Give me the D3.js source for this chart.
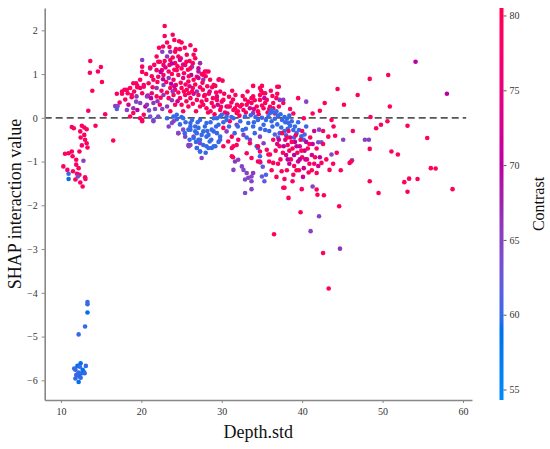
<!DOCTYPE html>
<html>
<head>
<meta charset="utf-8">
<script src="https://cdn.jsdelivr.net/npm/d3@7"></script>
<style>
  body { margin: 0; background: #fff; }
  svg text { font-family: "Liberation Serif", "DejaVu Serif", serif; }
</style>
</head>
<body>
<div id="container"></div>
<script>
// [depth.std, shap interaction value, contrast]
var leftCluster = [
  [13.65,1.30,79],[13.6,1.03,78],[14.97,1.16,79],[14.6,1.06,78],[15.1,0.82,79],[13.9,0.62,79],[13.4,0.16,78],[14.3,-0.18,79],[15.5,0.08,78],[16.5,-0.52,79],
  [11.35,-0.21,78],[11.6,-0.24,79],[12.6,-0.18,79],[12.9,-0.22,78],[12.4,-0.31,79],[13.2,-0.26,79],[12.9,-0.39,78],[12.45,-0.45,79],[13.0,-0.50,79],[12.6,-0.63,78],
  [13.2,-0.58,79],[13.3,-0.68,79],[12.3,-0.77,78],[10.5,-0.82,79],[10.95,-0.81,78],[11.35,-0.77,79],[11.45,-0.88,79],[10.3,-1.11,79],[10.8,-1.19,78],[11.9,-0.96,79],
  [11.9,-1.07,78],[12.2,-1.15,79],[11.5,-1.22,79],[12.0,-1.28,78],[12.3,-1.30,79],[11.8,-1.41,79],[12.4,-1.48,78],[12.7,-1.57,79],[13.0,-1.36,79],[13.05,-1.40,78],
  [10.95,-1.28,60],[10.95,-1.40,59],[12.1,-1.34,64],[12.8,-0.98,65]
];

var lowCluster = [
  [13.3,-4.21,60],[13.3,-4.26,60],[13.3,-4.45,59],[13.0,-4.77,60],[12.2,-4.95,60],[12.45,-5.61,59],[11.65,-5.73,60],[11.8,-5.76,60],[12.05,-5.67,59],[12.35,-5.69,60],
  [13.1,-5.67,60],[12.7,-5.76,59],[12.2,-5.82,60],[12.6,-5.84,60],[12.85,-5.81,59],[11.9,-5.88,60],[12.3,-5.91,59],[12.05,-5.86,60],[11.8,-5.96,60],[12.2,-6.04,59],
  [12.95,-5.84,60],[12.45,-5.94,60]
];

var riseCluster = [
  [16.75,0.27,66],[16.95,0.2,61],[17.05,0.27,64],[17.6,0.55,79],[17.9,0.64,78],[18.3,0.56,79],[18.6,0.68,79],[18.8,0.47,78],[19.1,0.60,79],[19.35,0.79,78],
  [19.5,0.73,79],[19.85,0.68,76],[20.1,1.32,65],[20.1,1.17,79],[20.1,1.05,78],[20.3,0.71,79],[19.35,0.37,65],[19.0,0.22,66],[19.5,0.18,70],[18.6,0.03,79],
  [19.85,-0.01,79],[20.1,-0.05,79],[21.1,1.13,65],[20.8,0.51,72],[20.5,0.26,70],[20.95,0.17,64],[21.1,0.03,63],[21.5,-0.05,61],[22.1,0.03,64],
  [18.2,0.64,79],[17.6,0.60,79],[16.95,0.55,78],[18.8,0.52,79],[19.4,0.49,66],[20.1,0.56,79],[20.7,0.49,66],[21.3,0.56,76],[21.9,0.49,79],[19.85,0.34,65],
  [20.7,0.30,66],[21.5,0.34,66],[18.2,0.18,65],[19.0,0.11,79],[20.3,0.07,79],[19.85,0.87,79],[19.0,0.79,79],[19.5,0.70,79],[20.3,0.75,78],[20.9,0.79,79],
  [21.5,0.87,78],[20.1,-0.08,78],[21.5,-0.08,65],[18.0,0.42,79],[17.3,0.35,78],[18.4,0.3,72]
];

var peakCluster = [
  [22.9,2.1,79],[22.9,1.87,79],[24.1,1.78,79],[23.2,1.72,79],[26.1,1.66,79],[22.7,1.63,79],[22.6,1.51,65],[23.6,1.51,66],[24.3,1.57,78],[24.8,1.57,79],
  [26.7,1.55,79],[26.5,1.44,79],[25.65,1.44,78],[24.2,1.51,79],[21.9,1.40,79],[23.2,1.40,66],[23.9,1.38,79],[24.9,1.36,78],[26.7,1.36,79],[22.1,1.28,79],
  [21.6,1.21,79],[22.75,1.21,78],[23.6,1.32,79],[24.2,1.25,79],[24.8,1.32,72],[25.45,1.21,79],[26.3,1.17,66],[27.3,1.25,67],[27.9,1.06,79],[28.35,1.06,78],
  [27.1,1.06,68],[25.0,1.13,79],[24.4,1.09,79],[22.55,1.09,79],[23.4,1.06,79],[21.9,1.09,78],[21.1,1.15,79],[22.3,1.28,79],[23.5,1.21,79],[25.2,1.22,74],
  [26.1,1.13,79],[27.1,1.13,72],[27.5,1.0,79],[26.9,0.94,78],[22.1,0.94,79],[22.75,0.98,79],[23.4,0.91,66],[24.0,0.87,79],[24.6,0.98,79],[25.2,0.91,74],
  [25.85,0.83,79],[26.5,0.87,79],[27.1,0.91,72],[27.7,0.87,66],[28.55,0.87,79],[29.6,0.87,72],[29.0,0.75,79],[21.9,0.68,66],[22.75,0.75,65],[23.6,0.68,79],
  [24.2,0.64,79],[25.0,0.68,79],[25.65,0.64,78],[26.4,0.68,79],[26.9,0.60,66],[27.65,0.64,79],[22.75,0.52,66],[23.4,0.45,79],[24.0,0.52,79],[24.8,0.45,78],
  [25.45,0.52,79],[26.1,0.45,79],[26.9,0.41,79],[27.5,0.37,78],[28.1,0.41,79],[28.75,0.34,79],[29.4,0.41,79],[30.0,0.37,78],[30.6,0.26,72],[22.3,0.30,79],
  [23.2,0.26,66],[24.2,0.30,79],[25.0,0.30,79],[25.85,0.26,79],[27.3,0.26,79],[28.1,0.22,79],[29.0,0.26,78],
  [22.4,1.05,70],[23.0,1.15,73],[23.8,1.0,79],[24.5,1.18,79],[25.3,1.02,79],[25.8,1.1,79],[26.2,0.98,70],[23.1,0.82,79],[23.7,0.78,70],[24.3,0.75,79],
  [24.9,0.8,79],[25.5,0.76,79],[26.0,0.72,74],[26.7,0.76,79],[27.3,0.7,79],[22.5,0.62,79],[23.2,0.58,79],[23.9,0.6,66],[24.6,0.58,79],[25.3,0.6,79],
  [25.9,0.56,79],[26.5,0.55,72],[27.1,0.52,79],[27.8,0.5,79],[28.4,0.55,79],[22.0,0.82,79],[21.4,0.7,79],[21.2,0.45,70],[22.0,0.38,66],[22.6,0.2,65],
  [23.8,0.4,66],[24.5,0.38,72],[25.6,0.38,79],[26.4,0.32,79],[21.7,0.2,64],[23.5,1.62,79],[25.0,1.72,79],[24.6,1.4,79],[25.6,1.28,79],[22.9,1.3,79],
  [23.8,1.24,70],[26.0,1.3,79],[28.0,0.95,79],[28.8,0.7,79],[28.5,0.6,74],[29.3,0.58,79],[29.8,0.6,79],[29.2,0.73,79],[28.1,1.06,79],[27.7,0.98,79],
  [29.7,0.88,79],[27.9,0.52,79],[29.4,0.49,74],[30.2,0.41,79],[30.8,0.26,79],[31.65,0.22,79],[32.5,0.30,79],[33.3,0.37,78],[33.7,0.45,79],[35.0,0.73,79],
  [35.2,0.56,79],[35.6,0.41,79],[36.9,0.71,79],
  [22.2,1.6,79],[23.9,1.9,79],[24.7,1.75,79],[25.4,1.6,79],[26.4,1.25,79],[21.3,0.95,79],[20.6,1.0,79],[22.7,0.88,70],[24.1,1.1,79],[25.9,0.95,79],
  [27.6,0.8,79],[28.2,0.72,79],[26.3,0.6,79],[24.1,0.72,72],[22.4,0.46,79],[23.6,0.15,79],[25.2,0.15,79],[26.8,0.15,79],[28.6,0.15,79],[27.7,0.3,79]
];

var bandCluster = [
  [29.8,0.18,79],[31.0,0.26,79],[31.45,0.18,79],[32.3,0.26,79],[32.7,0.18,78],[33.1,0.30,79],[33.7,0.34,79],[34.35,0.26,79],[34.75,0.41,79],[35.4,0.34,79],
  [33.9,0.49,79],[34.75,0.52,79],[35.4,0.56,79],[36.4,0.34,79],[31.85,0.11,79],[33.9,0.11,66],[35.2,0.22,79],[30.4,0.12,79],[31.2,0.35,78],[32.0,0.15,79],
  [32.9,0.42,79],[34.0,0.2,74],[34.6,0.08,79],[35.7,0.12,79],[36.0,0.25,79],[36.8,0.45,79],[30.9,0.48,79],[34.75,0.68,79],[36.4,0.22,79],[37.1,0.26,79],
  [37.65,0.34,79],[37.1,0.71,79],[37.2,0.41,66],[37.65,0.41,66],[38.5,0.2,79],[38.9,0.1,79],[36.9,0.55,79],[33.9,0.73,79],
  [28.3,0.12,79],[29.1,0.08,79],[29.5,0.3,72],[30.3,0.55,79],[30.7,0.1,74],[31.4,0.42,79],[31.9,0.3,79],[32.2,0.05,79],[32.6,0.5,79],[33.0,0.12,79],
  [33.5,0.22,72],[34.1,0.4,79],[34.5,0.15,79],[35.0,0.28,79],[35.3,0.45,72],[35.9,0.2,79],[36.3,0.5,79],[36.6,0.1,79],[29.9,0.25,79],[31.7,0.52,79],
  [33.2,0.6,79],[34.9,0.62,79],[36.1,0.62,79],[30.1,0.85,79],[31.3,0.62,79],[28.9,0.45,79]
];

var blueBand = [
  [23.2,-0.01,60],[24.0,0.03,60],[24.4,0.07,60],[25.0,0.02,60],[23.8,-0.12,64],[23.4,-0.2,65],[24.6,-0.35,79],[25.85,-0.27,60],[26.1,-0.2,60],[26.7,-0.31,60],
  [27.1,-0.23,60],[27.7,-0.31,60],[28.35,-0.39,60],[29.0,-0.31,60],[26.5,-0.43,64],[27.1,-0.50,60],[27.3,-0.58,65],[28.1,-0.65,60],[28.75,-0.69,60],[29.2,-0.65,60],
  [27.5,-0.92,65],[27.3,-0.77,60],[26.9,-0.69,60],[25.85,-0.62,65],[29.8,-0.43,60],[29.6,-0.16,60],[30.2,-0.23,79],[29.4,-0.01,60],[30.0,0.07,60],[30.6,0.03,60],
  [31.0,-0.08,79],[31.45,-0.01,60],[31.85,-0.16,65],[32.3,-0.08,60],[32.9,0.03,60],[33.3,-0.12,60],[33.9,-0.2,60],[34.5,-0.05,60],[35.2,-0.16,60],[35.8,0.03,60],
  [36.2,-0.08,60],[36.0,0.11,60],[36.2,0.18,60],[24.4,-0.03,60],[25.2,-0.01,60],[26.1,-0.12,60],[26.7,-0.2,60],[27.3,-0.05,60],[28.1,-0.12,60],[29.0,-0.01,60],
  [29.8,0.03,60],[30.6,-0.05,60],[26.1,-0.27,60],[26.9,-0.35,60],[27.5,-0.39,60],[26.5,-0.46,60],[27.3,-0.50,60],[28.1,-0.43,60],[28.5,-0.54,60],[27.7,-0.62,60],
  [26.9,-0.69,60],[28.35,-0.69,60],[29.0,-0.65,60],[27.3,-0.77,60],[28.75,-0.27,60],[29.4,-0.35,60],[29.8,-0.50,61],[25.2,-0.27,64],[25.45,-0.43,65],[26.1,-0.62,64],
  [25.9,-0.65,65],[24.6,-0.35,64],[24.0,-0.08,65],
  [37.0,0.05,60],[36.6,-0.02,60],[37.3,0.08,60],[37.5,-0.05,60],[37.8,0.02,60],[37.9,-0.1,60],[38.1,-0.02,60],[38.3,-0.12,60],[38.5,-0.18,60],[38.2,-0.25,60],
  [38.7,-0.08,60],[38.9,-0.28,60],[39.1,-0.2,60],[39.3,-0.35,60],[39.6,-0.28,60],[39.9,-0.42,60],[40.3,-0.38,61],[36.9,-0.15,60],[37.4,-0.22,60],[37.8,-0.3,60],
  [36.5,0.12,60],[35.5,-0.05,60],[35.0,0.0,60],[34.2,0.02,60],[33.6,0.06,60],[34.8,-0.25,60],[35.9,-0.3,60],[36.6,-0.38,61],[37.0,-0.45,62],[42.0,-0.56,64],
  [42.4,-0.56,63],[40.5,-0.2,60],[40.2,-0.5,60],[32.6,-0.28,60],[31.6,-0.35,60],[33.1,-0.45,60],[34.1,-0.35,60],[34.35,-0.65,60],[34.5,-0.69,60],[34.75,-0.88,60],
  [30.6,-0.31,65],[32.7,-0.39,65],[33.5,-0.50,65],[34.75,-0.43,65],[35.2,-0.58,65],
  [24.8,-0.15,60],[25.5,-0.1,60],[25.4,-0.35,60],[26.3,-0.05,60],[26.8,-0.55,60],[27.9,-0.2,60],[28.2,-0.3,60],[28.7,-0.5,60],[29.3,-0.2,60],[28.0,-0.8,60],
  [28.6,-0.1,60],[30.2,-0.1,60],[27.0,-0.1,60],[26.0,-0.5,60],[29.6,-0.55,60],[30.9,-0.2,60],[31.2,0.02,60],[32.0,-0.2,60],[33.0,-0.25,60],[34.0,-0.1,60],
  [35.4,-0.28,60],[36.3,-0.2,60],[37.2,-0.35,60],[38.0,-0.4,60],[39.0,-0.45,60],[36.8,0.15,60],[38.4,0.05,60],[39.5,-0.1,60]
];

var dipCluster = [
  [32.5,-1.11,65],[32.7,-1.19,64],[33.1,-1.26,65],[33.7,-1.34,64],[33.3,-1.37,65],[32.9,-1.41,64],[33.7,-1.45,65],[32.9,-1.72,64],[33.7,-1.63,65],[35.0,-1.34,62],
  [35.3,-1.45,62],[35.5,-1.30,61],[32.05,-0.96,65],[31.65,-1.0,66],[31.45,-1.19,65],[33.9,-1.26,66],[34.8,-1.02,63],[35.1,-1.12,62]
];

var redCloud = [
  [30.2,-0.65,79],[31.25,-0.69,79],[30.8,-0.54,79],[31.85,-0.62,79],[31.25,-0.88,79],[31.4,-0.90,79],[33.1,-0.81,79],[33.5,-0.58,79],[34.5,-0.65,79],[34.75,-0.77,79],
  [34.75,-1.0,79],[36.0,-0.84,79],[36.4,-1.03,79],[37.45,-1.22,79],[37.2,-0.65,79],[31.25,-0.43,79],[31.45,-0.65,79],[32.05,-0.50,79],[33.7,-0.92,79],[34.5,-1.0,79],
  [35.6,-0.73,79],[35.8,-0.84,79],[37.65,-1.6,79],[37.8,-1.4,79],
  [37.5,-0.35,79],[37.9,-0.5,74],[38.2,-0.62,79],[38.5,-0.45,72],[38.8,-0.7,79],[39.1,-0.55,71],[39.4,-0.8,79],[39.7,-0.65,72],[40.0,-0.9,79],[40.3,-0.75,71],
  [40.6,-0.95,79],[40.9,-0.6,79],[41.2,-0.85,72],[41.5,-1.05,79],[38.0,-0.85,72],[38.6,-0.95,79],[39.0,-1.1,79],[39.5,-1.0,72],[40.2,-1.15,71],[40.8,-1.25,79],
  [37.6,-0.8,79],[38.3,-0.3,79],[39.2,-0.4,79],[40.0,-0.3,79],[36.9,-0.6,74],[37.3,-0.95,79],[38.9,-1.3,79],[39.6,-1.2,79],[41.0,-0.45,79],[41.8,-0.7,79],
  [42.2,-0.9,71],[42.6,-0.3,79],[41.5,-0.3,72],[40.5,-0.55,71],[39.8,-0.5,79],[39.0,-0.85,70],[38.4,-1.05,71],[36.2,-1.2,79],[36.7,-0.75,79],[38.1,-1.2,79],
  [37.1,-0.5,72],[37.7,-0.65,70],[38.1,-0.45,79],[38.7,-0.55,79],[39.3,-0.65,71],[39.9,-0.75,79],[40.4,-0.95,72],[40.7,-0.7,79],[41.3,-0.6,71],[41.6,-0.9,79],
  [42.0,-1.1,72],[38.4,-0.75,79],[39.7,-0.95,71],[40.9,-1.05,79],[37.0,-1.05,79],[38.2,-0.95,70],[39.3,-1.2,79],[36.4,-0.5,79],[35.9,-1.0,79],[36.8,-1.35,79],
  [38.8,-1.45,79],[40.1,-1.35,72],[41.2,-1.2,79],[42.6,-0.6,79],[43.0,-0.95,79],[44.3,-0.8,79],[44.8,-1.2,79],[43.9,-0.2,79],[45.2,0.3,79],[41.3,0.1,79],
  [42.4,-1.03,79],[41.8,-1.26,79],[43.4,-1.19,79],[43.85,-1.05,79],[43.65,-0.84,65],[45.9,-1.03,79],[46.2,-0.97,65],[46.1,-1.0,79],[41.3,-1.57,65],[41.8,-1.64,79],
  [41.9,-1.76,79],[42.7,-1.77,79],[39.95,-1.63,79],[37.8,-1.60,79],[38.3,-1.83,79],[44.6,-2.02,79],[39.8,-2.16,79],[42.1,-2.25,65],[41.05,-2.59,65],[36.5,-2.66,79],
  [42.6,-3.09,79],[44.7,-2.99,66],[43.3,-3.90,79],[42.2,0.16,79],[42.8,0.34,79],[39.5,0.45,79],[40.5,0.37,65],[40.2,-0.01,79],[43.65,-0.05,79],[44.4,0.66,79],
  [46.9,0.52,79],[46.3,-0.30,79],[45.1,-0.50,65],[44.1,-0.41,79],[43.25,-0.43,79],[42.1,-0.27,65],[47.8,-0.50,65],[48.3,-0.50,65],[48.4,-0.71,79]
];

var tailCluster = [
  [48.4,0.89,79],[50.7,0.98,79],[50.9,0.26,79],[48.5,0.02,79],[49.2,-0.24,79],[49.8,-0.16,79],[50.6,-0.08,79],[51.1,-0.77,79],[51.9,-0.84,79],[48.4,-1.45,79],
  [49.5,-1.72,79],[54.1,1.28,70],[58.0,0.55,70],[53.1,-0.18,79],[55.55,-0.46,79],[56.0,-1.15,79],[56.6,-1.16,79],[58.7,-1.63,79],[52.7,-1.47,79],[53.3,-1.39,79],
  [54.35,-1.40,79],[53.1,-1.69,79]
];

var xTicks = [10, 20, 30, 40, 50, 60];
var yTicks = [-6, -5, -4, -3, -2, -1, 0, 1, 2];
var cTicks = [55, 60, 65, 70, 75, 80];

var width = 550,
    height = 449;
var plotL = 44.7, plotR = 472, plotT = 8, plotB = 400;

var svg = d3.select("#container").append("svg")
    .attr("width", width)
    .attr("height", height);

var x = d3.scaleLinear().domain([7.98, 61.12]).range([plotL, plotR]);
var y = d3.scaleLinear().domain([-6.45, 2.51]).range([plotB, plotT]);
var cScale = d3.scaleLinear().domain([54.3, 80.5]).range([0, 1]).clamp(true);

// shap red_blue map: lch path converted with a D65 white point
function redBlue(t) {
    var l = t < 0.5 ? 54 - 28 * t : 40 + 28 * (t - 0.5);
    var c = 70 + 20 * t;
    var h = (266.93 + (380.32 - 266.93) * t) * Math.PI / 180;
    var a = c * Math.cos(h), b = c * Math.sin(h);
    var fy = (l + 16) / 116, fx = fy + a / 500, fz = fy - b / 200;
    var finv = v => v > 6 / 29 ? v * v * v : 3 * (6 / 29) * (6 / 29) * (v - 4 / 29);
    var X = 0.95047 * finv(fx), Y = finv(fy), Z = 1.08883 * finv(fz);
    var lin = [
        3.2406 * X - 1.5372 * Y - 0.4986 * Z,
        -0.9689 * X + 1.8758 * Y + 0.0415 * Z,
        0.0557 * X - 0.2040 * Y + 1.0570 * Z
    ];
    var rgb = lin.map(function (v) {
        v = Math.max(0, Math.min(1, v));
        v = v <= 0.0031308 ? 12.92 * v : 1.055 * Math.pow(v, 1 / 2.4) - 0.055;
        return Math.round(v * 255);
    });
    return d3.rgb(rgb[0], rgb[1], rgb[2]).formatHex();
}

var allPoints = [].concat(leftCluster, lowCluster, riseCluster, peakCluster, bandCluster,
    blueBand, dipCluster, redCloud, tailCluster);

// zero line
svg.append("line")
    .attr("x1", x(7.98)).attr("x2", x(60.4))
    .attr("y1", y(0)).attr("y2", y(0))
    .attr("stroke", "#555")
    .attr("stroke-width", 1.8)
    .attr("stroke-dasharray", "7,4");

svg.append("g")
    .selectAll("circle")
    .data(allPoints)
    .join("circle")
    .attr("cx", d => x(d[0]))
    .attr("cy", d => y(d[1]))
    .attr("r", 2.3)
    .attr("fill", d => redBlue(cScale(d[2])));

// axes
var xAxis = svg.append("g")
    .attr("transform", "translate(0," + plotB + ")")
    .call(d3.axisBottom(x).tickValues(xTicks).tickSize(3).tickSizeOuter(0).tickPadding(5));
var yAxis = svg.append("g")
    .attr("transform", "translate(" + plotL + ",0)")
    .call(d3.axisLeft(y).tickValues(yTicks).tickSize(3).tickSizeOuter(0).tickPadding(4)
        .tickFormat(d => d < 0 ? "\u2212" + Math.abs(d) : d));

[xAxis, yAxis].forEach(function (g) {
    g.attr("font-family", null);
    g.select(".domain").attr("stroke", "#888").attr("stroke-width", 1.6);
    g.selectAll(".tick line").attr("stroke", "#888");
    g.selectAll(".tick text").attr("fill", "#333").style("font-size", "10px")
        .style("font-family", "'Liberation Serif', serif");
});

svg.append("text")
    .attr("x", (plotL + plotR) / 2)
    .attr("y", 438)
    .attr("text-anchor", "middle")
    .style("font-size", "18px")
    .attr("fill", "#111")
    .text("Depth.std");

svg.append("text")
    .attr("transform", "translate(21," + ((plotT + plotB) / 2) + ") rotate(-90)")
    .attr("text-anchor", "middle")
    .style("font-size", "18px")
    .attr("fill", "#111")
    .text("SHAP interaction value");

// colorbar
var defs = svg.append("defs");
var grad = defs.append("linearGradient")
    .attr("id", "cbar")
    .attr("x1", "0").attr("y1", "1").attr("x2", "0").attr("y2", "0");
d3.range(0, 1.0001, 0.02).forEach(function (t) {
    grad.append("stop").attr("offset", t).attr("stop-color", redBlue(t));
});

var cbY = d3.scaleLinear().domain([54.3, 80.5]).range([plotB, plotT]);
svg.append("rect")
    .attr("x", 499.5).attr("y", plotT)
    .attr("width", 4).attr("height", plotB - plotT)
    .attr("fill", "url(#cbar)");

var cAxis = svg.append("g")
    .attr("transform", "translate(503.5,0)")
    .call(d3.axisRight(cbY).tickValues(cTicks).tickSize(3).tickPadding(3));
cAxis.attr("font-family", null);
cAxis.select(".domain").remove();
cAxis.selectAll(".tick line").attr("stroke", "#555");
cAxis.selectAll(".tick text").attr("fill", "#333").style("font-size", "10px")
    .style("font-family", "'Liberation Serif', serif");

svg.append("text")
    .attr("transform", "translate(544," + ((plotT + plotB) / 2) + ") rotate(-90)")
    .attr("text-anchor", "middle")
    .style("font-size", "16px")
    .attr("fill", "#111")
    .text("Contrast");
</script>
</body>
</html>
